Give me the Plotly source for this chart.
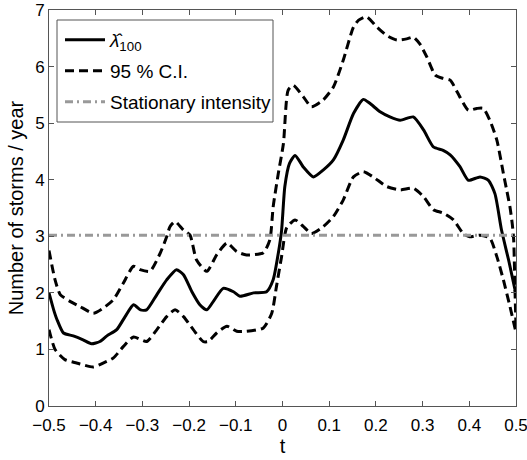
import plotly.graph_objects as go

# Smoothed intensity estimate
t_mean = [-0.5, -0.49, -0.483, -0.469, -0.448, -0.427, -0.409, -0.391, -0.376, -0.355,
          -0.337, -0.319, -0.304, -0.291, -0.269, -0.248, -0.227, -0.212, -0.194, -0.177,
          -0.162, -0.148, -0.127, -0.105, -0.091, -0.062, -0.034, -0.020, -0.009, -0.002,
          0.005, 0.015, 0.027, 0.045, 0.066, 0.087, 0.109, 0.130, 0.152, 0.173,
          0.187, 0.209, 0.230, 0.252, 0.280, 0.302, 0.323, 0.344, 0.359, 0.380,
          0.398, 0.423, 0.441, 0.455, 0.469, 0.485, 0.5]
v_mean = [2.0, 1.70, 1.53, 1.29, 1.24, 1.17, 1.10, 1.14, 1.24, 1.35,
          1.58, 1.79, 1.70, 1.70, 1.97, 2.23, 2.41, 2.32, 2.02, 1.79,
          1.70, 1.85, 2.08, 2.02, 1.94, 2.0, 2.02, 2.23, 2.70, 3.1,
          3.88, 4.29, 4.43, 4.22, 4.05, 4.17, 4.35, 4.70, 5.17, 5.42,
          5.35, 5.20, 5.11, 5.05, 5.11, 4.88, 4.58, 4.52, 4.44, 4.23,
          3.99, 4.05, 3.99, 3.75, 3.11, 2.55, 1.97]

# Upper 95 % confidence bound
t_upper = [-0.5, -0.487, -0.476, -0.455, -0.434, -0.405, -0.384, -0.362, -0.341, -0.319,
           -0.305, -0.284, -0.262, -0.248, -0.241, -0.230, -0.212, -0.198, -0.184, -0.162,
           -0.141, -0.119, -0.098, -0.077, -0.041, -0.027, -0.020, -0.009, 0.002, 0.012,
           0.023, 0.045, 0.062, 0.087, 0.109, 0.130, 0.152, 0.163, 0.180, 0.202,
           0.223, 0.245, 0.266, 0.280, 0.294, 0.309, 0.327, 0.344, 0.359, 0.380,
           0.398, 0.416, 0.430, 0.444, 0.459, 0.473, 0.480, 0.487, 0.492, 0.495,
           0.498, 0.5]
v_upper = [2.75, 2.23, 1.97, 1.85, 1.76, 1.64, 1.73, 1.88, 2.17, 2.47,
           2.41, 2.38, 2.70, 2.99, 3.17, 3.26, 3.11, 3.02, 2.58, 2.38,
           2.67, 2.88, 2.73, 2.67, 2.71, 2.94, 3.52, 4.11, 4.64, 5.58,
           5.67, 5.46, 5.29, 5.41, 5.64, 6.11, 6.70, 6.82, 6.88, 6.70,
           6.55, 6.47, 6.49, 6.52, 6.40, 6.17, 5.85, 5.79, 5.76, 5.46,
           5.23, 5.26, 5.26, 5.05, 4.70, 4.11, 3.82, 3.52, 3.22, 2.94,
           2.0, 1.4]

# Lower 95 % confidence bound
t_lower = [-0.5, -0.487, -0.466, -0.441, -0.405, -0.384, -0.362, -0.341, -0.319, -0.291,
           -0.269, -0.248, -0.230, -0.212, -0.191, -0.170, -0.159, -0.141, -0.119, -0.098,
           -0.077, -0.041, -0.023, -0.013, -0.002, 0.009, 0.027, 0.045, 0.062, 0.087,
           0.109, 0.130, 0.152, 0.173, 0.194, 0.223, 0.252, 0.280, 0.302, 0.323,
           0.344, 0.366, 0.387, 0.401, 0.423, 0.444, 0.459, 0.473, 0.487, 0.5]
v_lower = [1.35, 1.00, 0.82, 0.76, 0.69, 0.76, 0.85, 1.05, 1.22, 1.14,
           1.35, 1.58, 1.70, 1.58, 1.35, 1.14, 1.14, 1.29, 1.41, 1.32,
           1.32, 1.38, 1.64, 2.11, 2.64, 3.15, 3.29, 3.17, 3.05, 3.17,
           3.35, 3.64, 4.05, 4.14, 4.05, 3.88, 3.82, 3.85, 3.70, 3.47,
           3.41, 3.29, 3.05, 2.99, 3.02, 2.97, 2.64, 2.23, 1.76, 1.3]

stationary_level = 3.02
t_range = [-0.5, 0.5]

x_ticks = [-0.5, -0.4, -0.3, -0.2, -0.1, 0, 0.1, 0.2, 0.3, 0.4, 0.5]
x_tick_text = ["\u22120.5", "\u22120.4", "\u22120.3", "\u22120.2", "\u22120.1", "0",
               "0.1", "0.2", "0.3", "0.4", "0.5"]
y_ticks = [0, 1, 2, 3, 4, 5, 6, 7]

FONT = "Liberation Sans, Arial, Helvetica, sans-serif"
W, H = 527, 460
ML, MR, MT, MB = 49, 11, 10, 54
PW, PH = W - ML - MR, H - MT - MB


def px_x(x):
    return (x - ML) / PW


def px_y(y):
    return (H - MB - y) / PH


fig = go.Figure()
fig.add_trace(go.Scatter(
    x=t_mean, y=v_mean, mode="lines", legend="legend",
    name="<i>λ\u0302</i><sub>100</sub>",
    line=dict(color="black", width=3, shape="spline", smoothing=0.6),
))
fig.add_trace(go.Scatter(
    x=t_upper, y=v_upper, mode="lines", name="95 % C.I.", legend="legend2",
    line=dict(color="black", width=3, dash="9px,5px", shape="spline", smoothing=0.6),
))
fig.add_trace(go.Scatter(
    x=t_lower, y=v_lower, mode="lines", name="95 % C.I.", showlegend=False,
    line=dict(color="black", width=3, dash="9px,5px", shape="spline", smoothing=0.6),
))
fig.add_trace(go.Scatter(
    x=t_range, y=[stationary_level, stationary_level], mode="lines",
    name="Stationary intensity", legend="legend3",
    line=dict(color="#999999", width=3, dash="8px,4px,2px,4px"),
))

axis_common = dict(
    showgrid=False, zeroline=False, showline=True, linecolor="#555555", linewidth=1,
    mirror="ticks", ticks="inside", ticklen=5, tickcolor="#555555", automargin=False,
    tickfont=dict(family=FONT, size=17, color="black"),
)

legend_common = dict(xanchor="left", yanchor="middle", bgcolor="rgba(0,0,0,0)",
                     borderwidth=0, itemwidth=40,
                     font=dict(family=FONT, size=19, color="black"))

fig.update_layout(
    width=W, height=H,
    margin=dict(l=ML, r=MR, t=MT, b=MB),
    paper_bgcolor="white", plot_bgcolor="white",
    font=dict(family=FONT, color="black"),
    xaxis=dict(range=[-0.5, 0.5], tickvals=x_ticks, ticktext=x_tick_text,
               ticklabeloverflow="allow", ticklabelstandoff=4,
               title=dict(text="t", font=dict(family=FONT, size=20), standoff=4),
               **axis_common),
    yaxis=dict(range=[0, 7], tickvals=y_ticks, ticklabeloverflow="allow",
               title=dict(text="Number of storms / year", font=dict(family=FONT, size=20), standoff=6),
               **axis_common),
    legend=dict(x=px_x(60), y=px_y(40), **legend_common),
    legend2=dict(x=px_x(60), y=px_y(71), **legend_common),
    legend3=dict(x=px_x(60), y=px_y(102), **legend_common),
    showlegend=True,
    shapes=[dict(type="rect", xref="paper", yref="paper",
                 x0=px_x(57), x1=px_x(273), y0=px_y(122), y1=px_y(20),
                 line=dict(color="#555555", width=1), fillcolor="rgba(0,0,0,0)",
                 layer="above")],
)

fig.write_html("out.html")
